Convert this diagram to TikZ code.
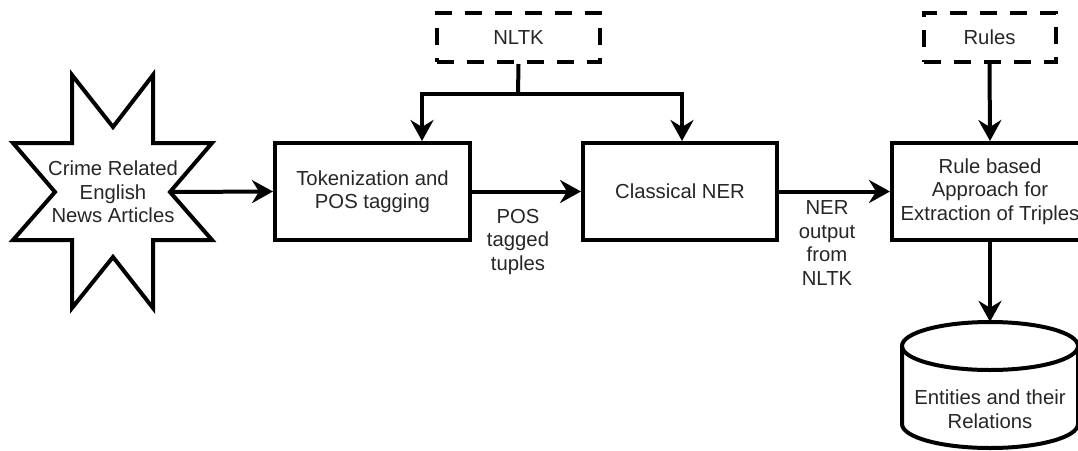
\documentclass[tikz,border=0pt]{standalone}
\usepackage{fontspec}
\setmainfont{Liberation Sans}
\usetikzlibrary{arrows.meta}

\begin{document}
\begin{tikzpicture}[x=1pt, y=-1pt,
  every node/.style={font=\fontsize{20.3}{23.5}\selectfont, align=center, inner sep=0pt, text=black!85},
  procbox/.style={draw, line width=4pt, minimum height=97pt, fill=white},
  inputbox/.style={draw, line width=4pt, dash pattern=on 17pt off 13pt, minimum width=#1, minimum height=49pt},
  flow/.style={line width=4pt, -{Stealth[length=21pt, width=23pt, inset=7pt]}},
  outline/.style={line width=4pt, line join=miter},
]
\useasboundingbox (0,0) rectangle (1078,450);
\clip (0,0) rectangle (1078,450);

% source: eight-pointed star
\draw[outline, fill=white]
  (72,75) -- (72,143) -- (13,143) -- (55,192) -- (13,240) -- (72,240)
  -- (72,308) -- (113,257) -- (153,308) -- (153,240) -- (212,240)
  -- (170,192) -- (212,143) -- (153,143) -- (153,75) -- (113,127) -- cycle;
\node (star) at (113,192) {Crime Related\\English\\News Articles};
\coordinate (starout) at (171,192);

% processing steps
\node[procbox, minimum width=195pt] (tok) at (372.5,191.5) {Tokenization and\\POS tagging};
\node[procbox, minimum width=194pt] (ner) at (680,191.5) {Classical NER};
\node[procbox, minimum width=196pt] (rule) at (990,191.5) {Rule based\\Approach for\\Extraction of Triples};

% external inputs
\node[inputbox=163pt] (nltk) at (518.5,37.5) {NLTK};
\node[inputbox=132pt] (rules) at (989.5,37.5) {Rules};

% output store: cylinder (body, bottom half-ellipse, top lid)
\draw[outline, fill=white]
  (902,346) -- (902,424)
  .. controls (902,437.25) and (941.4,448) .. (990,448)
  .. controls (1038.6,448) and (1078,437.25) .. (1078,424)
  -- (1078,346);
\draw[outline] (990,346) ellipse[x radius=88, y radius=24];
\node[minimum width=176pt, minimum height=126pt] (store) at (990,385) {};
\node (storetext) at (990,409) {Entities and their\\Relations};

% NLTK feeds both steps
\coordinate (split) at (518,94);
\draw[line width=4pt] (nltk.south) -- (split);
\draw[flow] (split) -| ([xshift=49.5pt]tok.north);
\draw[flow] (split) -| ([xshift=2pt]ner.north);

% main pipeline
\draw[flow] (starout) -- (tok.west);
\draw[flow] (tok.east) -- (ner.west);
\draw[flow] (ner.east) -- (rule.west);
\draw[flow] (rules.south) -- (rule.north);
\draw[flow] (rule.south) -- (store.north);

% edge labels
\node (poslabel) at (518,242) {POS\\tagged\\tuples};
\node (nerlabel) at (827,243) {NER\\output\\from\\NLTK};
\end{tikzpicture}
\end{document}
